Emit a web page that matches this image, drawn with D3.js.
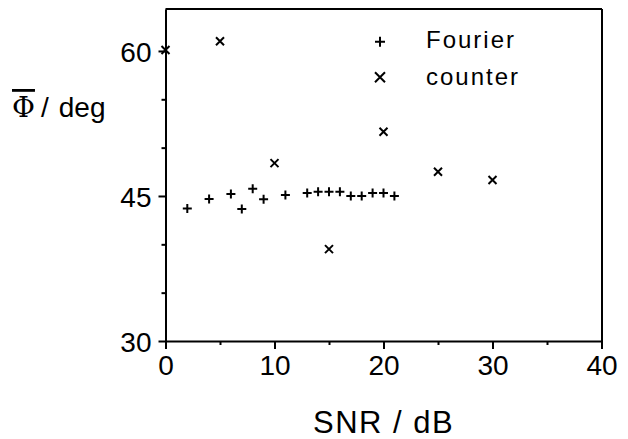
<!DOCTYPE html>
<html>
<head>
<meta charset="utf-8">
<script src="https://cdn.jsdelivr.net/npm/d3@7"></script>
<style>
  html, body { margin: 0; padding: 0; background: #fff; }
  svg { display: block; }
  text { font-family: "Liberation Sans", Arial, sans-serif; fill: #000; }
</style>
</head>
<body>
<svg id="chart" width="628" height="439"></svg>
<script>
// ---- data ----
const fourierSNR = [2, 4, 6, 7, 8, 9, 11, 13, 14, 15, 16, 17, 18, 19, 20, 21];
const fourierPhi = [43.7, 44.7, 45.2, 43.65, 45.75, 44.65, 45.1, 45.3, 45.45, 45.45, 45.45, 45.0, 45.0, 45.3, 45.3, 45.0];
const counterSNR = [0, 5, 10, 15, 20, 25, 30];
const counterPhi = [60.1, 61.0, 48.4, 39.5, 51.65, 47.5, 46.65];
const xTicks = [0, 10, 20, 30, 40];
const xMinorTicks = [5, 15, 25, 35];
const yTicks = [30, 45, 60];
const yMinorTicks = [35, 40, 50, 55];
const legendLabels = ["Fourier", "counter"];

// ---- layout ----
const svg = d3.select("#chart");
const mLeft = 165.5, mRight = 601.5, mTop = 9, mBottom = 341;
const x = d3.scaleLinear().domain([0, 40]).range([mLeft, mRight]);
const y = d3.scaleLinear().domain([30, 64.34]).range([mBottom, mTop]);

// frame (top & right)
svg.append("line").attr("x1", mLeft).attr("x2", mRight + 0.5).attr("y1", mTop).attr("y2", mTop)
  .attr("stroke", "#000").attr("stroke-width", 2);
svg.append("line").attr("x1", mRight + 0.5).attr("x2", mRight + 0.5).attr("y1", mTop).attr("y2", mBottom)
  .attr("stroke", "#000").attr("stroke-width", 2);

// x axis
const gx = svg.append("g").attr("transform", `translate(0,${mBottom})`)
  .call(d3.axisBottom(x).tickValues(xTicks).tickSize(8).tickSizeOuter(0).tickPadding(6).tickFormat(d3.format("d")));
const gxm = svg.append("g").attr("transform", `translate(0,${mBottom})`)
  .call(d3.axisBottom(x).tickValues(xMinorTicks).tickSize(4).tickSizeOuter(0).tickFormat(""));
gxm.select(".domain").remove();

// y axis
const gy = svg.append("g").attr("transform", `translate(${mLeft},0)`)
  .call(d3.axisLeft(y).tickValues(yTicks).tickSize(7).tickSizeOuter(0).tickPadding(7).tickFormat(d3.format("d")));
const gym = svg.append("g").attr("transform", `translate(${mLeft},0)`)
  .call(d3.axisLeft(y).tickValues(yMinorTicks).tickSize(4).tickSizeOuter(0).tickFormat(""));
gym.select(".domain").remove();

svg.selectAll(".domain").attr("stroke", "#000").attr("stroke-width", 2);
svg.selectAll(".tick line").attr("stroke", "#000").attr("stroke-width", 2);
svg.selectAll(".tick text")
  .style("font-family", '"Liberation Sans", Arial, sans-serif')
  .style("font-size", "28px").attr("fill", "#000");
gx.selectAll(".tick text").attr("dy", "0.72em");
gy.selectAll(".tick text").attr("dy", "0.36em");

// markers
function plusPath(cx, cy, s) {
  return `M${cx - s},${cy}L${cx + s},${cy}M${cx},${cy - s}L${cx},${cy + s}`;
}
function crossPath(cx, cy, s) {
  return `M${cx - s},${cy - s}L${cx + s},${cy + s}M${cx - s},${cy + s}L${cx + s},${cy - s}`;
}

svg.append("g").selectAll("path").data(fourierSNR.map((d, i) => [d, fourierPhi[i]]))
  .join("path")
  .attr("d", d => plusPath(x(d[0]), y(d[1]), 4.5))
  .attr("stroke", "#000").attr("stroke-width", 2).attr("fill", "none");

svg.append("g").selectAll("path").data(counterSNR.map((d, i) => [d, counterPhi[i]]))
  .join("path")
  .attr("d", d => crossPath(x(d[0]), y(d[1]), 4))
  .attr("stroke", "#000").attr("stroke-width", 2).attr("fill", "none");

// legend
const leg = svg.append("g");
leg.append("path").attr("d", plusPath(380, 41.7, 5)).attr("stroke", "#000").attr("stroke-width", 2);
leg.append("path").attr("d", crossPath(380, 77.3, 5)).attr("stroke", "#000").attr("stroke-width", 2);
leg.append("text").attr("x", 426).attr("y", 48).text(legendLabels[0])
  .style("font-size", "24px").style("letter-spacing", "2px");
leg.append("text").attr("x", 426).attr("y", 85).text(legendLabels[1])
  .style("font-size", "24px").style("letter-spacing", "2px");

// axis titles
svg.append("text").attr("x", 313).attr("y", 433).text("SNR / dB")
  .style("font-size", "31px").style("letter-spacing", "1.5px");

const yt = svg.append("text").attr("x", 12).attr("y", 117).style("font-size", "28px");
yt.append("tspan").style("font-family", '"DejaVu Serif", "Liberation Serif", serif')
  .style("text-decoration", "overline").text("Φ");
yt.append("tspan").attr("dx", 6).text("/");
yt.append("tspan").attr("dx", 10).text("deg");
</script>
</body>
</html>
